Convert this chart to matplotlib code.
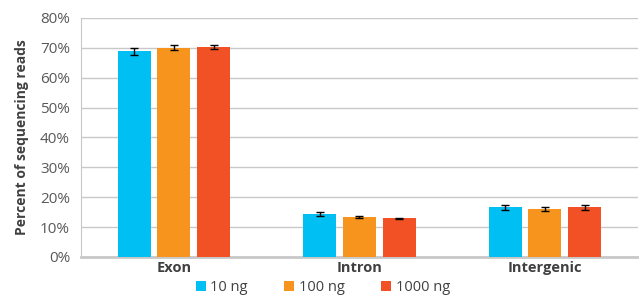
import matplotlib
matplotlib.use("Agg")
import matplotlib.pyplot as plt
import numpy as np
from matplotlib.ticker import PercentFormatter

categories = ["Exon", "Intron", "Intergenic"]
series = ["10 ng", "100 ng", "1000 ng"]
vals_10 = [68.9, 14.3, 16.6]
vals_100 = [70.1, 13.4, 16.1]
vals_1000 = [70.2, 12.9, 16.6]
err_10 = [1.2, 0.6, 0.8]
err_100 = [0.8, 0.4, 0.6]
err_1000 = [0.6, 0.2, 0.8]
colors = ["#00BFF3", "#F7941D", "#F15124"]

plt.rcParams['font.family'] = ['Open Sans', 'DejaVu Sans']

fig = plt.figure(figsize=(6.39, 2.95), dpi=100)
ax = fig.add_axes([0.127, 0.129, 0.871, 0.81])

x = np.arange(len(categories))
w = 0.178
step = 0.215
for i, (v, e, c, lab) in enumerate(zip([vals_10, vals_100, vals_1000],
                                        [err_10, err_100, err_1000], colors, series)):
    ax.bar(x + (i - 1) * step, v, w, color=c, label=lab, zorder=3,
           yerr=e, error_kw=dict(ecolor="black", elinewidth=1, capsize=3, capthick=1, zorder=4))

ax.set_xlim(-0.5, 2.5)
ax.set_ylim(0, 80)
ax.set_yticks(np.arange(0, 81, 10))
ax.yaxis.set_major_formatter(PercentFormatter(decimals=0))
ax.grid(axis="y", color="#c8c8c8", linewidth=1, zorder=0)
ax.set_xticks(x)
ax.set_xticklabels(categories, fontsize=10.5, fontweight="bold", color="#404040")
ax.tick_params(axis="y", labelsize=11, labelcolor="#595959", length=0, pad=8)
ax.tick_params(axis="x", length=0, pad=3)
for s in ["top", "right"]:
    ax.spines[s].set_visible(False)
ax.spines["left"].set_color("#c8c8c8")
ax.spines["bottom"].set_color("#c8c8c8")
ax.spines["bottom"].set_linewidth(2)
ax.set_ylabel("Percent of sequencing reads", fontsize=10, fontweight="bold", color="#404040", labelpad=8)

leg = fig.legend(loc="lower center", bbox_to_anchor=(0.505, -0.045), ncol=3, frameon=False,
                 fontsize=10.5, handlelength=0.7, handleheight=0.7, handletextpad=0.3,
                 columnspacing=2.5)
for t in leg.get_texts():
    t.set_color("#404040")

fig.savefig("out.png", dpi=100)
